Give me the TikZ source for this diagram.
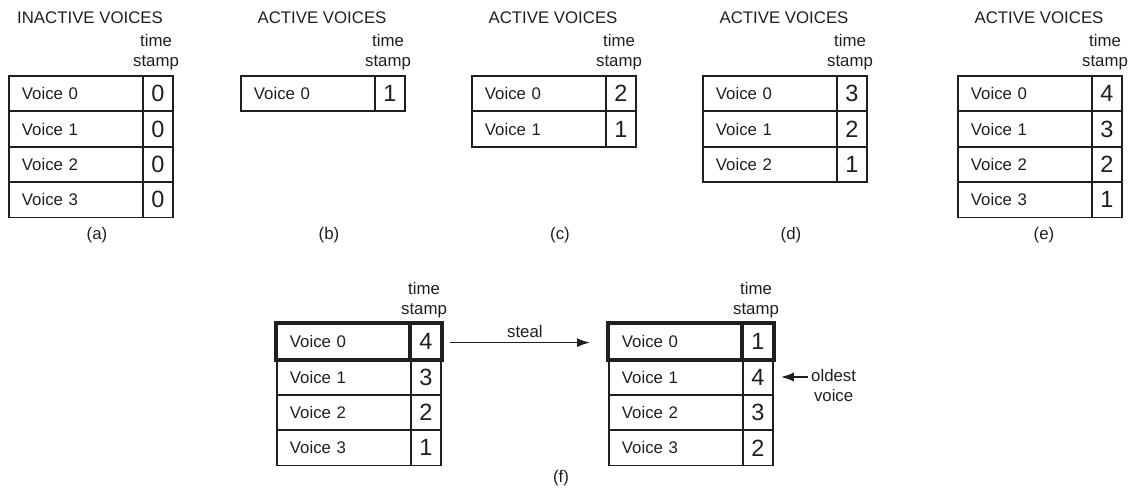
\documentclass[tikz,border=0pt]{standalone}
\usepackage{fontspec}
\setmainfont{Liberation Sans}
\usetikzlibrary{arrows.meta}
\definecolor{ink}{gray}{0.12}
\tikzset{
  ln/.style={line width=1.8pt, draw=ink},
  txt/.style={font=\fontsize{16.8}{20.5}\selectfont, text=ink, inner sep=0pt},
  namecell/.style={ln, rectangle, minimum height=35.4pt, text width=108pt, inner xsep=13pt, inner ysep=0pt, align=left, font=\fontsize{16.8}{20}\selectfont, text=ink, anchor=north west},
  stampcell/.style={ln, rectangle, minimum height=35.4pt, minimum width=30pt, inner sep=0pt, font=\fontsize{23.5}{25}\selectfont, text=ink, anchor=north west},
  boldline/.style={line width=3.4pt, draw=ink},
  arr/.style={line width=1.7pt, draw=ink, -{Latex[length=13pt,width=9pt]}},
  hdr/.style={txt, align=center, anchor=south},
}
\newcommand{\voicetable}[4]{%
  \foreach \i/\v in {#4} {
    \node[namecell] (#1-n\i) at ({#2},{#3+\i*35.4}) {Voice \i};
    \node[stampcell] (#1-s\i) at ({#2+134},{#3+\i*35.4}) {\v};
  }
  \node[hdr] (#1-h) at ({#2+148},{#3-4.5}) {time\\stamp};
}
\begin{document}
\begin{tikzpicture}[x=1pt,y=-1pt]
\useasboundingbox (0,0) rectangle (1137,488);

% (a)
\node[txt, anchor=base] (a-title) at (90,23) {INACTIVE VOICES};
\voicetable{a}{8}{75}{0/0,1/0,2/0,3/0}
\node[txt, anchor=base] (a-lab) at (97,239) {(a)};

% (b)
\node[txt, anchor=base] (b-title) at (322,23) {ACTIVE VOICES};
\voicetable{b}{240}{75}{0/1}
\node[txt, anchor=base] (b-lab) at (329,239) {(b)};

% (c)
\node[txt, anchor=base] (c-title) at (553,23) {ACTIVE VOICES};
\voicetable{c}{471}{75}{0/2,1/1}
\node[txt, anchor=base] (c-lab) at (560,239) {(c)};

% (d)
\node[txt, anchor=base] (d-title) at (784,23) {ACTIVE VOICES};
\voicetable{d}{702}{75}{0/3,1/2,2/1}
\node[txt, anchor=base] (d-lab) at (791,239) {(d)};

% (e)
\node[txt, anchor=base] (e-title) at (1039,23) {ACTIVE VOICES};
\voicetable{e}{957}{75}{0/4,1/3,2/2,3/1}
\node[txt, anchor=base] (e-lab) at (1044,239) {(e)};

% (f)
\voicetable{f1}{276}{323}{0/4,1/3,2/2,3/1}
\voicetable{f2}{608}{323}{0/1,1/4,2/3,3/2}
\draw[boldline] (f1-n0.north west) rectangle (f1-s0.south east);
\draw[boldline] (f1-s0.north west) -- (f1-s0.south west);
\draw[boldline] (f2-n0.north west) rectangle (f2-s0.south east);
\draw[boldline] (f2-s0.north west) -- (f2-s0.south west);

\draw[arr, shorten <=8pt, shorten >=18pt] ([yshift=-1pt]f1-s0.east) -- node[txt, above, inner sep=4pt] (steal) {steal} ([yshift=-1pt]f2-n0.west);

\node[txt, align=center, anchor=north west] (old) at (811,369) {oldest\\voice};
\draw[arr, shorten <=3pt, shorten >=7pt] (old.west |- f2-s1.east) -- (f2-s1.east);

\node[txt, anchor=base] (f-lab) at (561,482) {(f)};
\end{tikzpicture}
\end{document}
